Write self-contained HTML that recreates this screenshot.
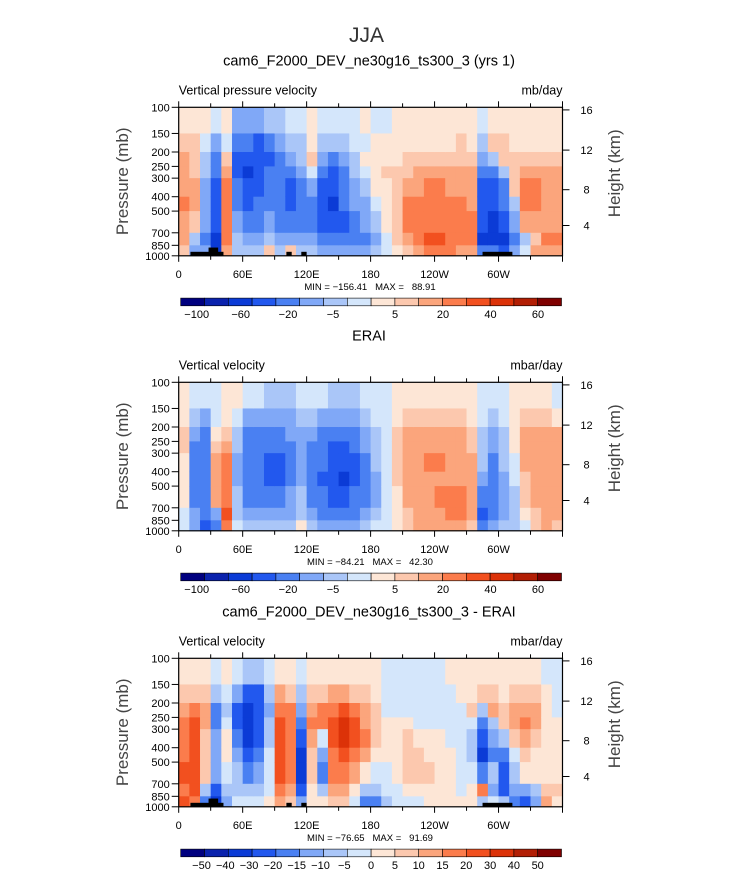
<!DOCTYPE html>
<html><head><meta charset="utf-8"><style>
body{margin:0;background:#fff;}
svg{display:block;font-family:"Liberation Sans",sans-serif;}
</style></head><body>
<svg id="fig" width="733" height="872" viewBox="0 0 733 872"></svg>
<script>
// ---- data ----
const pressureLevels=[100,150,200,250,300,400,500,700,850,1000];
const lonTicks=["0","60E","120E","180","120W","60W"];
const bounds12=[-100,-80,-60,-40,-20,-10,-5,0,5,10,20,30,40,50,60];
const bounds3=[-50,-40,-30,-20,-15,-10,-5,0,5,10,15,20,30,40,50];
const labels12=["\u2212100","\u221260","\u221220","\u22125","5","20","40","60"];
const labels3=["\u221250","\u221240","\u221230","\u221220","\u221215","\u221210","\u22125","0","5","10","15","20","30","40","50"];
// columns of 10 deg longitude, each with 9 pressure bands (100-150 ... 850-1000)
const modelCols=[
[2,7,15,15,15,25,15,15,7],[2,7,7,7,15,15,7,-7,-15],[2,-2,-7,-7,-15,-15,-15,-30,-15],[-2,-15,-30,-30,-50,-50,-50,-70,-70],
[2,-2,7,15,25,25,25,25,15],[-15,-30,-50,-50,-30,-30,-15,-7,-7],[-15,-30,-50,-70,-50,-50,-30,-15,-7],[-15,-50,-50,-50,-50,-30,-30,-15,-7],
[-7,-30,-50,-30,-30,-30,-15,-7,7],[-7,-15,-30,-30,-30,-30,-30,-15,-7],[-2,-7,-15,-30,-50,-50,-30,-15,7],[-2,-7,-7,-15,-30,-30,-30,-15,-7],
[2,2,7,-2,-15,-30,-30,-15,-7],[-2,-7,-15,-30,-50,-50,-50,-30,-15],[-2,-7,-30,-50,-50,-70,-50,-30,-15],[-2,-7,-15,-30,-30,-30,-50,-30,-15],
[-2,-2,-7,-7,-15,-15,-30,-30,-15],[2,-2,2,-2,-7,-15,-15,-30,-15],[-2,2,2,2,2,-2,-7,-15,-7],[-2,2,2,7,2,2,2,-2,-2],
[2,2,2,7,7,7,7,7,2],[2,2,7,7,15,25,25,15,7],[2,2,7,15,15,25,25,25,15],[2,2,7,15,25,25,25,35,25],
[2,2,7,15,25,25,25,35,25],[2,2,7,15,15,25,25,25,25],[2,7,7,15,15,25,25,25,15],[2,2,7,15,15,15,25,25,15],
[-2,-7,-15,-30,-50,-50,-50,-70,-30],[2,7,-7,-30,-50,-50,-70,-70,-30],[2,7,7,-7,-30,-30,-50,-70,-50],[2,2,7,7,7,-7,-15,-30,-15],
[2,2,7,15,25,25,15,-7,-2],[2,2,7,15,25,25,15,7,15],[2,2,7,15,15,15,15,25,15],[2,2,7,15,15,15,15,25,15]];
const eraiCols=[
[2,2,7,7,2,2,2,-2,-2],[-2,-7,-15,-30,-30,-30,-30,-15,-15],[-2,-15,-30,-30,-30,-30,-30,-30,-50],[-2,-2,2,7,15,15,15,-15,-30],
[2,2,7,15,25,25,25,35,25],[2,-2,-7,-7,-15,-15,-7,-7,-2],[-2,-15,-30,-30,-30,-30,-30,-15,-7],[-2,-15,-30,-30,-30,-30,-30,-15,-7],
[-7,-15,-30,-30,-50,-50,-30,-15,-7],[-7,-15,-30,-30,-50,-50,-30,-15,-7],[-7,-15,-15,-30,-30,-30,-15,-15,-7],[-2,-7,-15,-15,-15,-15,-7,-7,2],
[-2,-7,-15,-30,-30,-30,-30,-15,-7],[-2,-15,-30,-30,-30,-50,-30,-30,-15],[-7,-15,-30,-50,-50,-50,-50,-30,-15],[-7,-15,-30,-50,-50,-70,-50,-30,-15],
[-7,-15,-30,-30,-50,-50,-30,-30,-15],[-2,-7,-15,-15,-30,-30,-30,-15,-7],[-2,-2,-7,-7,-7,-15,-15,-7,-2],[-2,-2,-2,-2,-2,-2,-2,-2,-2],
[2,2,7,7,7,7,2,2,2],[2,7,15,15,15,15,15,7,7],[2,7,15,15,15,15,15,15,15],[2,7,15,15,25,15,15,15,15],
[2,7,15,15,25,15,25,15,15],[2,7,15,15,15,15,25,25,15],[2,7,15,15,15,15,25,25,15],[2,2,7,7,15,15,15,15,7],
[-2,-2,-7,-7,-7,-15,-30,-50,-30],[-2,-7,-15,-15,-30,-30,-30,-30,-15],[-2,-2,-7,-7,-7,-15,-15,-15,-7],[2,2,2,2,-2,-2,-7,-7,-7],
[2,7,15,15,15,7,7,2,-2],[2,7,15,15,15,15,15,7,7],[2,7,15,15,15,15,15,15,15],[-2,2,15,15,15,15,15,15,7]];
const diffCols=[
[2,7,12,17,17,17,25,17,25],[2,7,17,25,25,25,25,25,17],[2,7,12,12,7,7,7,-7,-17],[-2,-7,-17,-17,-12,-12,-12,-25,-35],
[2,-2,-7,-2,2,2,-2,-7,-12],[-2,-12,-25,-25,-17,-12,-7,-7,-2],[-7,-25,-35,-35,-35,-25,-17,-7,-2],[-7,-25,-25,-25,-25,-17,-12,-7,-2],
[-2,-7,-12,-7,-7,-2,-2,-2,2],[2,12,17,25,25,25,25,17,12],[2,7,17,17,17,17,17,12,7],[-2,-7,-12,-17,-25,-35,-35,-25,-12],
[2,7,12,17,12,7,7,2,2],[2,7,17,17,-2,-12,-17,-7,2],[2,12,17,25,25,17,17,12,7],[2,12,25,35,35,25,17,12,7],
[2,7,17,25,25,17,12,2,-2],[2,7,12,12,17,12,2,-7,-17],[2,2,7,7,7,2,-2,-7,-17],[-2,-2,-2,2,2,2,-2,-2,-7],
[-2,-2,-2,2,2,2,2,-2,-2],[-2,-2,-2,2,7,7,7,2,-2],[-2,-2,-2,-2,2,7,7,2,-2],[-2,-2,-2,-2,2,2,7,2,2],
[-2,-2,-2,-2,2,2,2,2,2],[2,-2,-2,-2,-2,2,2,2,2],[2,2,-2,-2,-2,-2,-2,-2,2],[2,2,7,-2,-7,-7,-2,2,2],
[2,7,-7,-17,-25,-35,-17,17,-7],[2,7,12,-7,-12,-17,-7,-12,-2],[2,2,7,7,-7,-17,-25,-25,-7],[2,7,12,12,7,-2,-7,-12,-17],
[2,7,12,17,12,7,2,-12,-25],[2,7,12,12,7,2,2,-7,-12],[-2,2,2,2,2,2,2,7,12],[-2,-2,-2,2,2,2,2,7,2]];
// topography (lon start, lon end, top pressure)
const topoLon0=[11,28,101,115,285];
const topoLon1=[42,37,106,120,313];
const topoP=[940,880,940,940,940];

const colors=["#00007f","#0a22ad","#0b3bd6","#2258ee","#4a80f2","#80a8f7","#aac6f8","#d4e6fb","#fde6d6","#fcc8ae","#fba57c","#fb7c4c","#f2501f","#dc3208","#b21e04","#7f0000"];
const NS="http://www.w3.org/2000/svg";
const svg=document.getElementById('fig');
function mk(tag,attrs,parent){const e=document.createElementNS(NS,tag);for(const k in attrs)e.setAttribute(k,attrs[k]);(parent||svg).appendChild(e);return e;}
function txt(x,y,s,size,anchor,parent,extra){const t=mk('text',Object.assign({x:x,y:y,'font-size':size,'text-anchor':anchor||'start',fill:'#000'},extra||{}),parent);t.textContent=s;return t;}

const X0=178.7,X1=562.5,W=X1-X0,H=148.5;
function xScale(lon){return X0+lon/360*W;}
function yScale(p,top){return top+Math.log(p/100)/Math.LN10*H;}
function colorIdx(v,b){let i=0;while(i<b.length&&v>=b[i])i++;return i;}

const jja=txt(366.5,42,"JJA",21,'middle',svg,{fill:'#333'});



function panel(cfg){
  const g=mk('g',{});
  
  
  const top=cfg.top;
  const t=txt(369,top-42,cfg.title,14.5,'middle',g);
  
  
  const l=txt(X0,top-13,cfg.left,12.5,'start',g);
  
  
  const u=txt(X1,top-13,cfg.units,12.5,'end',g);
  
  
  const cells=mk('g',{},g);
  
  
  cfg.data.forEach((col,i)=>{
    col.forEach((v,j)=>{
      const xa=xScale(i*10),xb=xScale(i*10+10);
      const ya=yScale(pressureLevels[j],top),yb=yScale(pressureLevels[j+1],top);
      const r=mk('rect',{x:xa.toFixed(2),y:ya.toFixed(2),width:(xb-xa+0.4).toFixed(2),height:(yb-ya+0.4).toFixed(2),fill:colors[colorIdx(v,cfg.bounds)]},cells);
      
      
    });
  });
  if(cfg.topo){
    topoLon0.forEach((a,k)=>{
      const r=mk('rect',{x:xScale(a),y:yScale(topoP[k],top),width:xScale(topoLon1[k])-xScale(a),height:top+H-yScale(topoP[k],top),fill:'#000'},g);
      
      
    });
  }
  const frame=mk('rect',{x:X0,y:top,width:W,height:H,fill:'none',stroke:'#000','stroke-width':1.2},g);
  
  
  for(let lon=0;lon<=360;lon+=30){
    const x=xScale(lon),maj=lon%60===0;
    mk('line',{x1:x,x2:x,y1:top+H,y2:top+H+(maj?6:4),stroke:'#000'},g);
    mk('line',{x1:x,x2:x,y1:top,y2:top-(maj?6:4),stroke:'#000'},g);
  }
  lonTicks.forEach((s,i)=>{const tl=txt(xScale(i*60),top+H+22,s,11,'middle',g);
    });
  pressureLevels.forEach(p=>{const y=yScale(p,top);
    mk('line',{x1:X0-7,x2:X0,y1:y,y2:y,stroke:'#000'},g);
    const tl=txt(X0-9,y+4,String(p),11,'end',g);
    });
  const hOff=[2.6,42.8,82.4,118.2],hLab=["16","12","8","4"];
  hOff.forEach((o,i)=>{const y=top+o;
    mk('line',{x1:X1,x2:X1+7,y1:y,y2:y,stroke:'#000'},g);
    const tl=txt(X1+24,y+4,hLab[i],11,'middle',g);
    });
  const yt=txt(0,0,"Pressure (mb)",17,'middle',g,{transform:`translate(128,${top+74}) rotate(-90)`,fill:'#444'});
  
  const ht=txt(0,0,"Height (km)",17,'middle',g,{transform:`translate(620,${top+66}) rotate(-90)`,fill:'#444'});
  
  const mm=txt(370,top+H+34,cfg.minmax,9.5,'middle',g,{style:'white-space:pre'});
  
  const cb=mk('g',{},g);
  
  
  const cx0=180.7,cx1=561.5,cw=(cx1-cx0)/16,cy=top+190.8;
  colors.forEach((c,i)=>{const r=mk('rect',{x:cx0+i*cw,y:cy,width:cw,height:7.7,fill:c,stroke:'#000','stroke-width':0.6},cb);
    });
  cfg.cbLabels.forEach((s,i)=>{const tl=txt(cfg.cbX[i],cy+20,s,11,'middle',cb);
    });
}
const cw=(561.5-180.7)/16;
panel({name:'model-panel',top:107.3,title:"cam6_F2000_DEV_ne30g16_ts300_3 (yrs 1)",left:"Vertical pressure velocity",units:"mb/day",
  data:modelCols,bounds:bounds12,topo:true,minmax:"MIN = \u2212156.41   MAX =   88.91",
  cbLabels:labels12,cbX:[196.7,240.7,288,333,395,443,490.5,538]});
panel({name:'erai-panel',top:382.3,title:"ERAI",left:"Vertical velocity",units:"mbar/day",
  data:eraiCols,bounds:bounds12,topo:false,minmax:"MIN = \u221284.21   MAX =   42.30",
  cbLabels:labels12,cbX:[196.7,240.7,288,333,395,443,490.5,538]});
panel({name:'difference-panel',top:658.3,title:"cam6_F2000_DEV_ne30g16_ts300_3 - ERAI",left:"Vertical velocity",units:"mbar/day",
  data:diffCols,bounds:bounds3,topo:true,minmax:"MIN = \u221276.65   MAX =   91.69",
  cbLabels:labels3,cbX:labels3.map((s,i)=>180.7+(i+1)*cw-(s.startsWith("\u2212")?3:0))});
</script>
</body></html>
